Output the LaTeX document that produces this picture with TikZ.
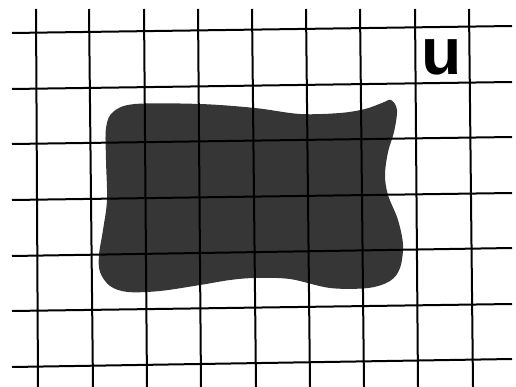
\documentclass[tikz,border=0pt]{standalone}
\usepackage{fontspec}
\setsansfont{Liberation Sans}
\usepackage{tikz}
\usetikzlibrary{positioning}
\usepackage{xcolor}
\definecolor{blobgray}{HTML}{363636}

\tikzset{
    gridline/.style={line width=2pt, black},
    letter/.style={font=\sffamily\bfseries\fontsize{66}{66}\selectfont, inner sep=0pt, anchor=base}
}

\begin{document}
\begin{tikzpicture}[x=1pt, y=-1pt]
    \useasboundingbox (0,0) rectangle (516,387);

    % the dark patch
    \fill[blobgray] plot[smooth cycle, tension=0.55] coordinates {
        (135,104) (200,104) (255,108) (300,114) (340,113) (365,109) (382,103)
        (391,100) (397,110) (394,132) (388,152) (385,175) (388,195) (398,220)
        (403,245) (400,268) (390,281) (368,288) (330,288) (290,279) (255,278)
        (230,280) (200,285) (160,291) (128,292) (110,286) (100,272) (99,255)
        (103,230) (107,200) (106,160) (106,128) (113,112)};

    % horizontal lines: left y, right y
    \foreach \yl/\yr in {33/26, 89/82, 144/137, 200/193, 256/248, 311/304, 367/359}
        \draw[gridline] (12,\yl) -- (512,\yr);

    % vertical lines: top x, bottom x
    \foreach \xt/\xb in {36/38, 89/93, 144/147, 198/201, 252/256, 306/310, 360/364, 415/418, 469/473}
        \draw[gridline] (\xt,9) -- (\xb,387);

    \node[letter] (u) at (442,75) {u};
\end{tikzpicture}
\end{document}
